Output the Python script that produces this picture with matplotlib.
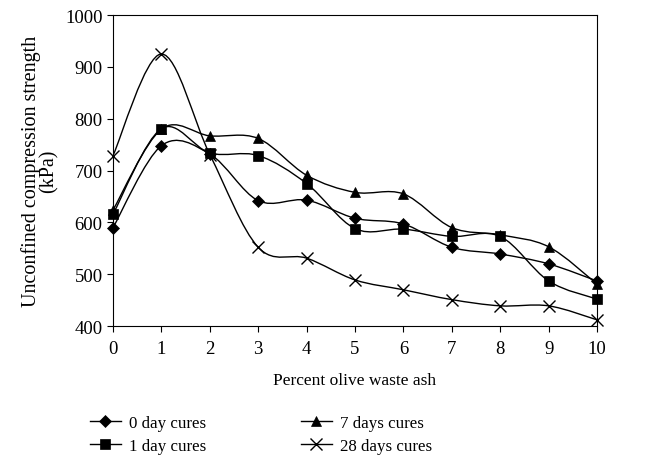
import numpy as np
import matplotlib
matplotlib.use("Agg")
import matplotlib.pyplot as plt
from matplotlib.path import Path
from matplotlib.patches import PathPatch
from matplotlib.lines import Line2D

plt.rcParams['font.family'] = ['Liberation Serif', 'DejaVu Serif']

# Data
ash_percent = [0, 1, 2, 3, 4, 5, 6, 7, 8, 9, 10]
cure_0day = [590, 748, 732, 642, 643, 608, 597, 552, 539, 520, 487]
cure_1day = [616, 781, 734, 729, 675, 588, 587, 573, 573, 487, 452]
cure_7days = [624, 780, 767, 762, 691, 658, 655, 590, 576, 553, 481]
cure_28days = [729, 925, 731, 552, 531, 489, 470, 451, 439, 439, 412]

series = [
    ("0 day cures", cure_0day, "D", 6),
    ("1 day cures", cure_1day, "s", 7.5),
    ("7 days cures", cure_7days, "^", 7.5),
    ("28 days cures", cure_28days, "x", 8),
]


# Excel-like smoothed line: cubic Bezier through each point
def smooth_path(xs, ys):
    pts = np.column_stack([xs, ys]).astype(float)
    n = len(pts)
    verts = [pts[0]]
    codes = [Path.MOVETO]
    for i in range(n - 1):
        p0 = pts[i - 1] if i > 0 else pts[i]
        p1 = pts[i]
        p2 = pts[i + 1]
        p3 = pts[i + 2] if i + 2 < n else pts[i + 1]
        c1 = p1 + (p2 - p0) / 6.0
        c2 = p2 - (p3 - p1) / 6.0
        verts += [c1, c2, p2]
        codes += [Path.CURVE4] * 3
    return Path(verts, codes)


fig = plt.figure(figsize=(6.51, 4.6), dpi=100)
ax = fig.add_axes([0.1736, 0.289, 0.7435, 0.676])

handles = []
for label, values, marker, ms in series:
    patch = PathPatch(smooth_path(ash_percent, values), facecolor='none',
                      edgecolor='black', linewidth=1.0)
    ax.add_patch(patch)
    ax.plot(ash_percent, values, linestyle='none', marker=marker, markersize=ms,
            color='black', markeredgewidth=1.0 if marker == 'x' else 0.5,
            clip_on=False, zorder=3)
    handles.append(Line2D([], [], color='black', linewidth=1.0, marker=marker,
                          markersize=ms, markeredgewidth=1.0 if marker == 'x' else 0.5,
                          label=label))

ax.set_xlim(0, 10)
ax.set_ylim(400, 1000)
ax.set_xticks(ash_percent)
ax.set_yticks(range(400, 1001, 100))
ax.tick_params(direction='out', length=4, width=0.8, labelsize=13.5)
ax.tick_params(axis='x', pad=6)
for sp in ax.spines.values():
    sp.set_linewidth(0.8)

ax.set_xlabel("Percent olive waste ash", fontsize=12.5, labelpad=11)
ax.set_ylabel("Unconfined compression strength\n(kPa)", fontsize=14.5,
              labelpad=5, linespacing=0.85)

fig.legend(handles=handles, ncol=2, loc='upper left', bbox_to_anchor=(0.128, 0.111),
           frameon=False, fontsize=12.2, handlelength=1.8, columnspacing=5.6,
           labelspacing=0.45, handletextpad=0.5, borderaxespad=0)

fig.savefig("out.png", dpi=100)
